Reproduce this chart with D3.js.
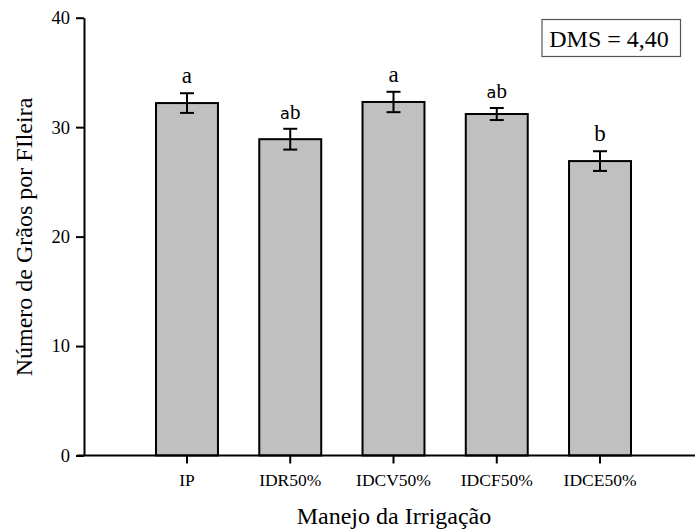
<!DOCTYPE html>
<html><head><meta charset="utf-8">
<script src="https://cdn.jsdelivr.net/npm/d3@7"></script>
<style>body{margin:0;background:#fff}svg{display:block}</style>
</head><body><svg id="c" width="696" height="529" font-family="Liberation Serif, Times New Roman, DejaVu Serif, serif"></svg>
<script>
const categories = ["IP","IDR50%","IDCV50%","IDCF50%","IDCE50%"];
const values = [32.2, 28.9, 32.3, 31.2, 26.9];
const errors = [0.9, 0.95, 0.93, 0.55, 0.9];
const letters = ["a","ab","a","ab","b"];
const yTicks = [0,10,20,30,40];
const dmsLabel = "DMS = 4,40";
const xTitle = "Manejo da Irrigação";
const yTitle = "Número de Grãos por FIleira";

const FONT = "Liberation Serif, Times New Roman, DejaVu Serif, serif";
const svg = d3.select("#c");
const y = d3.scaleLinear().domain([0,40]).range([455.5,17.7]);
const x = d3.scaleBand().domain(categories).range([135.35,651.65]).paddingInner(0.4).paddingOuter(0.2);

svg.selectAll("rect.bar").data(values).join("rect")
  .attr("x",(d,i)=>x(categories[i])).attr("width",x.bandwidth())
  .attr("y",d=>y(d)).attr("height",d=>y(0)-y(d))
  .attr("fill","#c0c0c0").attr("stroke","#000").attr("stroke-width",2);

const cx = i => x(categories[i]) + x.bandwidth()/2;
const eg = svg.append("g").attr("stroke","#000").attr("stroke-width",2);
values.forEach((v,i)=>{
  eg.append("line").attr("x1",cx(i)).attr("x2",cx(i)).attr("y1",y(v+errors[i])).attr("y2",y(v-errors[i]));
  eg.append("line").attr("x1",cx(i)-7).attr("x2",cx(i)+7).attr("y1",y(v+errors[i])).attr("y2",y(v+errors[i]));
  eg.append("line").attr("x1",cx(i)-7).attr("x2",cx(i)+7).attr("y1",y(v-errors[i])).attr("y2",y(v-errors[i]));
});

const lt = svg.selectAll("text.let").data(letters).join("text")
  .attr("font-family",FONT)
  .attr("x",(d,i)=>cx(i)).attr("y",(d,i)=>y(values[i]+errors[i])-10)
  .attr("text-anchor","middle").attr("font-size",23);
lt.each(function(d){
  const t = d3.select(this);
  if (d.length > 1) {
    t.append("tspan").attr("font-family","DejaVu Sans, sans-serif").attr("font-size",16).text(d[0]);
    t.append("tspan").attr("font-size",21).text(d.slice(1));
  } else t.text(d);
});

const ya = svg.append("g").attr("transform","translate(84,0)")
  .call(d3.axisLeft(y).tickValues(yTicks).tickSize(8).tickPadding(6).tickSizeOuter(0));
ya.attr("font-family",FONT).attr("font-size",18.5);
ya.select(".domain").attr("stroke-width",2);
ya.selectAll(".tick line").attr("stroke-width",2);

const xa = svg.append("g").attr("transform","translate(0,455.5)")
  .call(d3.axisBottom(x).tickSize(8).tickPadding(10).tickSizeOuter(0));
xa.attr("font-family",FONT).attr("font-size",17.5);
xa.select(".domain").attr("d","M77,0H695").attr("stroke-width",2);
xa.selectAll(".tick line").attr("stroke-width",2);

svg.append("text").attr("font-family",FONT).attr("x",394).attr("y",524).attr("text-anchor","middle").attr("font-size",24).text(xTitle);
svg.append("text").attr("font-family",FONT).attr("transform","translate(32,237) rotate(-90)").attr("text-anchor","middle").attr("font-size",24).text(yTitle);

svg.append("rect").attr("x",542).attr("y",19.5).attr("width",138.5).attr("height",37).attr("fill","#fff").attr("stroke","#555").attr("stroke-width",1.2);
svg.append("text").attr("font-family",FONT).attr("x",609).attr("y",47).attr("text-anchor","middle").attr("font-size",24).text(dmsLabel);
</script></body></html>
